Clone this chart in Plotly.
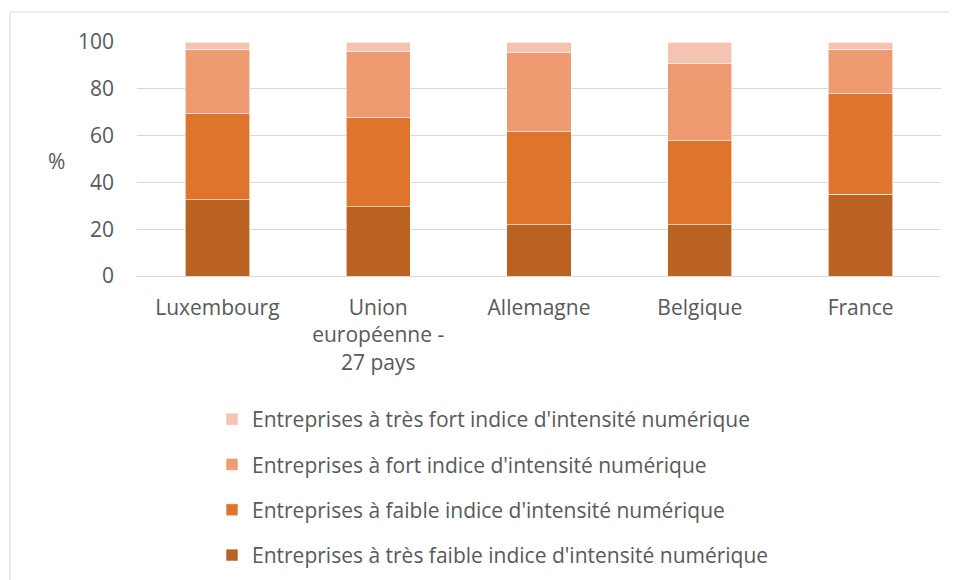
import plotly.graph_objects as go

categories = ["Luxembourg", "Union<br>européenne -<br>27 pays", "Allemagne", "Belgique", "France"]
tres_faible = [32.6, 29.6, 21.9, 21.9, 35.0]
faible = [36.8, 38.0, 39.7, 36.0, 42.8]
fort = [27.6, 28.2, 33.8, 32.8, 19.2]
tres_fort = [3.0, 4.2, 4.6, 9.3, 3.0]

series_names = [
    "Entreprises à très faible indice d'intensité numérique",
    "Entreprises à faible indice d'intensité numérique",
    "Entreprises à fort indice d'intensité numérique",
    "Entreprises à très fort indice d'intensité numérique",
]
series_values = [tres_faible, faible, fort, tres_fort]
colors = ["#BB6122", "#DF742C", "#F09A71", "#F5C3B1"]

FONT = "Open Sans"
FS = 21
TXT = "#595959"
fig = go.Figure()
for i, (name, vals, col) in enumerate(zip(series_names, series_values, colors)):
    fig.add_trace(go.Bar(
        x=categories, y=vals, name=name, legendgroup=f"g{i}", legendrank=10 - i,
        marker=dict(color=col, line=dict(color="rgba(255,255,255,0.6)", width=1)),
    ))

border = dict(color="#D9D9D9", width=1)
fig.update_layout(
    barmode="stack",
    bargap=0.6,
    width=957, height=580,
    margin=dict(l=129, r=24, t=34, b=312, autoexpand=False),
    paper_bgcolor="white", plot_bgcolor="white",
    font=dict(family=FONT, size=FS, color=TXT),
    showlegend=True,
    legend=dict(
        traceorder="grouped",
        orientation="v",
        xref="container", yref="container",
        x=204/957, y=1 - 391/580, xanchor="left", yanchor="top",
        tracegroupgap=15,
        font=dict(family=FONT, size=FS, color=TXT),
        itemwidth=30,
    ),
    xaxis=dict(showgrid=False, showline=False, ticks="", tickfont=dict(size=FS), tickangle=0,
               ticklabelstandoff=17),
    yaxis=dict(range=[0, 100], dtick=20, showgrid=True, gridcolor="#D9D9D9", gridwidth=1,
               zeroline=True, zerolinecolor="#D9D9D9", zerolinewidth=1,
               showline=False, ticks="", tickfont=dict(size=FS), ticklabelstandoff=22),
    annotations=[dict(text="%", xref="paper", yref="paper", x=-0.1, y=0.49,
                      xanchor="center", yanchor="middle", showarrow=False,
                      font=dict(size=FS, color=TXT))],
    shapes=[
        dict(type="line", xref="paper", yref="paper",
             x0=-127/804, x1=1 + 200/804, y0=1 + 30/234, y1=1 + 30/234, line=border, layer="below"),
        dict(type="line", xref="paper", yref="paper",
             x0=-127/804, x1=-127/804, y0=-1.5, y1=1 + 30/234, line=border, layer="below"),
    ],
)
fig.write_html("out.html")
